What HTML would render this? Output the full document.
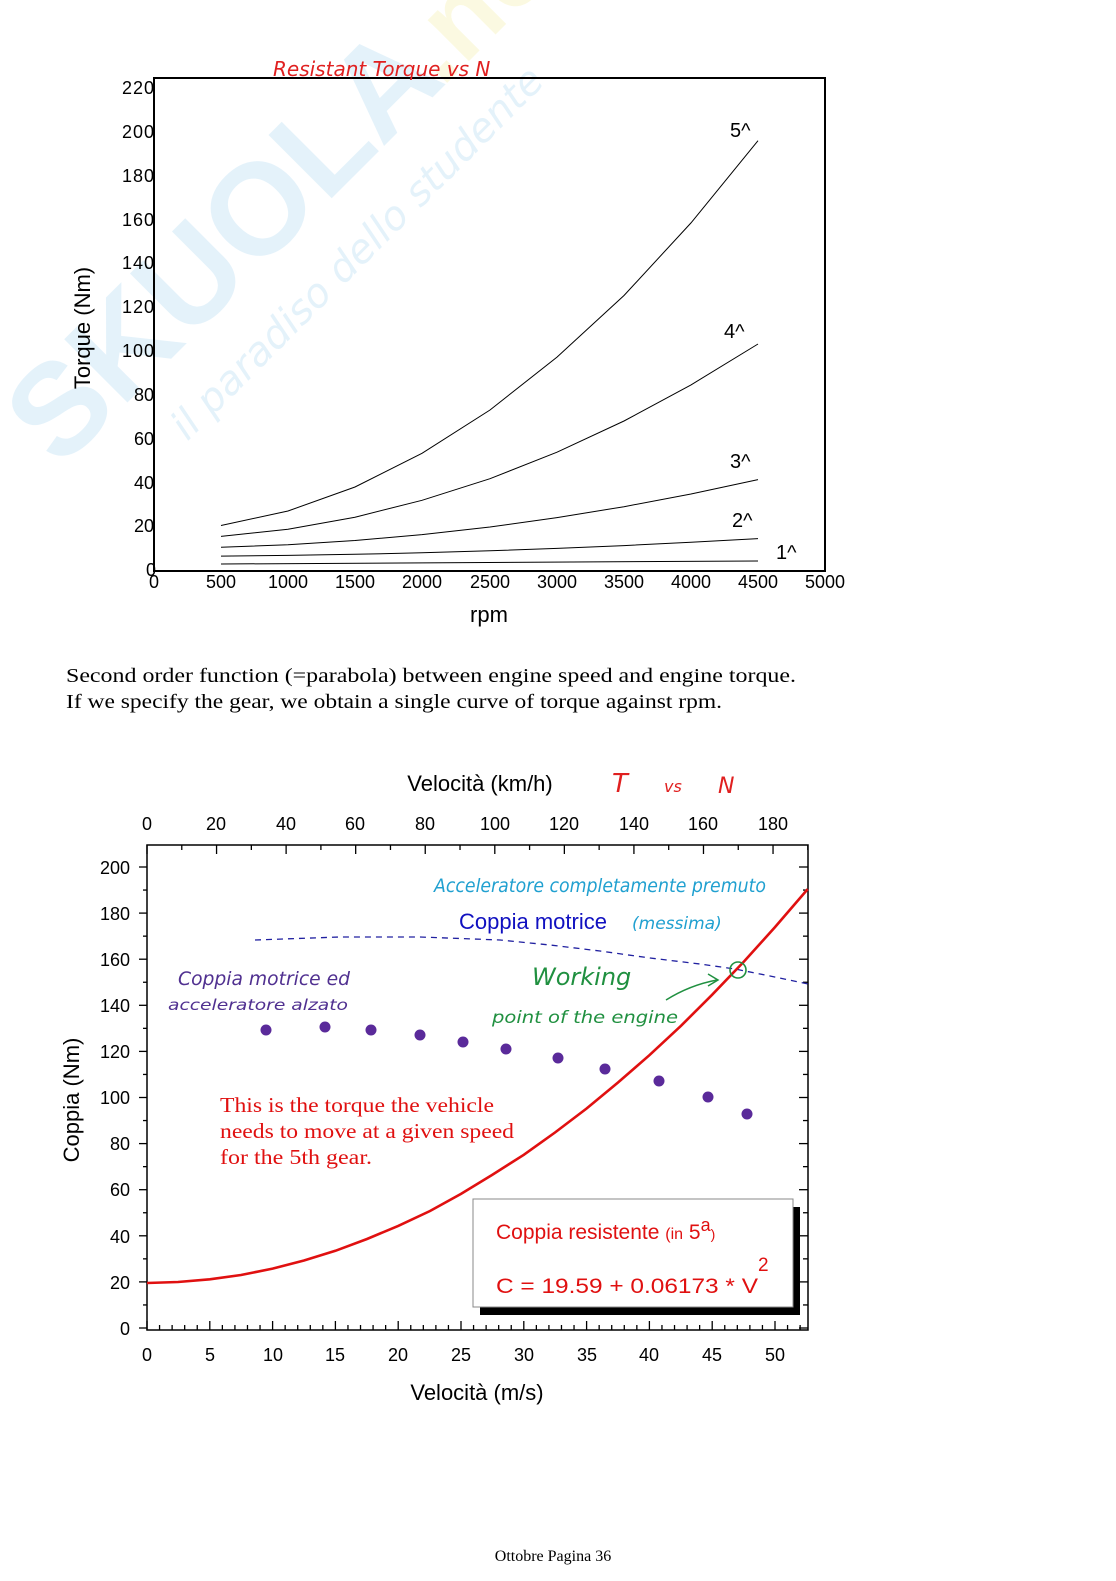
<!DOCTYPE html>
<html><head><meta charset="utf-8"><style>
html,body{margin:0;padding:0;background:#fff;}
body{width:1116px;height:1581px;position:relative;overflow:hidden;font-family:"Liberation Sans",sans-serif;}
svg{position:absolute;left:0;top:0;}
.t{font-family:"Liberation Sans",sans-serif;}
.hand{font-family:"DejaVu Sans",sans-serif;font-style:italic;}
.serif{font-family:"Liberation Serif",serif;}
</style></head><body>
<svg id="s" width="1116" height="1581" viewBox="0 0 1116 1581" xmlns="http://www.w3.org/2000/svg">
<!-- watermark -->
<g opacity="0.13" transform="translate(60 470) rotate(-45)">
<text x="0" y="0" class="t" font-size="130" font-weight="bold" fill="#3aa0e0">SKUOLA</text>
<text x="540" y="0" class="t" font-size="110" font-weight="bold" fill="#e8d820">.net</text>
<text x="110" y="70" class="hand" font-size="40" fill="#3aa0e0">il paradiso dello studente</text>
</g>
<!-- chart 1 -->
<rect x="154" y="78" width="671" height="493" fill="none" stroke="#000" stroke-width="2"/>
<text x="273" y="76" class="hand" font-size="20" fill="#e02020">Resistant Torque vs N</text>
<g class="t" font-size="18" fill="#000" text-anchor="end">
<text x="154" y="94" textLength="32">220</text><text x="154" y="138" textLength="32">200</text><text x="154" y="182" textLength="32">180</text><text x="154" y="226" textLength="32">160</text><text x="154" y="269" textLength="32">140</text><text x="154" y="313" textLength="32">120</text><text x="154" y="357" textLength="32">100</text><text x="154" y="401">80</text><text x="154" y="445">60</text><text x="154" y="489">40</text><text x="154" y="532">20</text><text x="156" y="576">0</text>
</g>
<g class="t" font-size="18" fill="#000" text-anchor="middle">
<text x="154" y="588">0</text><text x="221" y="588">500</text><text x="288" y="588">1000</text><text x="355" y="588">1500</text><text x="422" y="588">2000</text><text x="490" y="588">2500</text><text x="557" y="588">3000</text><text x="624" y="588">3500</text><text x="691" y="588">4000</text><text x="758" y="588">4500</text><text x="825" y="588">5000</text>
<text x="489" y="622" font-size="22">rpm</text>
</g>
<text transform="translate(90 328) rotate(-90)" class="t" font-size="22" text-anchor="middle">Torque (Nm)</text>
<g fill="none" stroke="#000" stroke-width="1">
<polyline points="221,525.5 288,511 355,487 422,453.3 490,410 557,357.1 624,295.5 691,222.9 758,140.7"/>
<polyline points="221,536.4 288,529.2 355,517.2 422,500.3 490,478.7 557,452.2 624,421 691,384.9 758,344"/>
<polyline points="221,547.3 288,544.7 355,540.5 422,534.6 490,527 557,517.6 624,506.7 691,494 758,479.6"/>
<polyline points="221,556.1 288,555.4 355,554.3 422,552.8 490,550.8 557,548.4 624,545.6 691,542.3 758,538.6"/>
<polyline points="221,564 758,561"/>
</g>
<g class="t" font-size="20">
<text x="730" y="137">5^</text><text x="724" y="338">4^</text><text x="730" y="468">3^</text><text x="732" y="527">2^</text><text x="776" y="559">1^</text>
</g>
<!-- paragraph -->
<text x="66" y="682" class="serif" font-size="20" textLength="730" lengthAdjust="spacingAndGlyphs">Second order function (=parabola) between engine speed and engine torque.</text>
<text x="66" y="708" class="serif" font-size="20" textLength="656" lengthAdjust="spacingAndGlyphs">If we specify the gear, we obtain a single curve of torque against rpm.</text>
<!-- chart 2 -->
<rect x="147" y="845" width="661" height="485" fill="none" stroke="#000" stroke-width="1.5"/>
<g id="ticks" stroke="#000" stroke-width="1.3"></g>
<text x="480" y="791" class="t" font-size="22" text-anchor="middle">Velocità (km/h)</text>
<text x="612" y="792" class="hand" font-size="26" fill="#e02020">T</text>
<text x="664" y="792" class="hand" font-size="16" fill="#e02020">vs</text>
<text x="718" y="793" class="hand" font-size="22" fill="#e02020">N</text>
<g class="t" font-size="18" text-anchor="middle">
<text x="147" y="830">0</text><text x="216" y="830">20</text><text x="286" y="830">40</text><text x="355" y="830">60</text><text x="425" y="830">80</text><text x="495" y="830">100</text><text x="564" y="830">120</text><text x="634" y="830">140</text><text x="703" y="830">160</text><text x="773" y="830">180</text>
<text x="147" y="1361">0</text><text x="210" y="1361">5</text><text x="273" y="1361">10</text><text x="335" y="1361">15</text><text x="398" y="1361">20</text><text x="461" y="1361">25</text><text x="524" y="1361">30</text><text x="587" y="1361">35</text><text x="649" y="1361">40</text><text x="712" y="1361">45</text><text x="775" y="1361">50</text>
<text x="477" y="1400" font-size="22">Velocità (m/s)</text>
</g>
<g class="t" font-size="18" text-anchor="end">
<text x="130" y="874">200</text><text x="130" y="920">180</text><text x="130" y="966">160</text><text x="130" y="1012">140</text><text x="130" y="1058">120</text><text x="130" y="1104">100</text><text x="130" y="1150">80</text><text x="130" y="1196">60</text><text x="130" y="1243">40</text><text x="130" y="1289">20</text><text x="130" y="1335">0</text>
</g>
<text transform="translate(79 1100) rotate(-90)" class="t" font-size="22" text-anchor="middle">Coppia (Nm)</text>
<text x="434" y="892" class="hand" font-size="19" fill="#20a0d0" textLength="332" lengthAdjust="spacingAndGlyphs">Acceleratore completamente premuto</text>
<text x="459" y="929" class="t" font-size="22" fill="#1010c0">Coppia motrice</text>
<text x="632" y="929" class="hand" font-size="17" fill="#20a0d0">(messima)</text>
<polyline points="255,940 340,937 420,937 500,940 550,945 600,951 650,958 700,964 735,969 770,976 808,984" fill="none" stroke="#2020a0" stroke-width="1.3" stroke-dasharray="6,5"/>
<text x="178" y="985" class="hand" font-size="19" fill="#503090" textLength="172" lengthAdjust="spacingAndGlyphs">Coppia motrice ed</text>
<text x="168" y="1010" class="hand" font-size="15" fill="#503090" textLength="180" lengthAdjust="spacingAndGlyphs">acceleratore alzato</text>
<text x="532" y="985" class="hand" font-size="24" fill="#209040">Working</text>
<text x="492" y="1023" class="hand" font-size="17" fill="#209040" textLength="186" lengthAdjust="spacingAndGlyphs">point of the engine</text>
<path d="M666,1000 Q690,985 717,980" fill="none" stroke="#209040" stroke-width="1.5"/>
<path d="M708,974 L718,980 L708,986" fill="none" stroke="#209040" stroke-width="1.5"/>
<g fill="#5a2a9a">
<circle cx="266" cy="1030" r="5.5"/><circle cx="325" cy="1027" r="5.5"/><circle cx="371" cy="1030" r="5.5"/><circle cx="420" cy="1035" r="5.5"/><circle cx="463" cy="1042" r="5.5"/><circle cx="506" cy="1049" r="5.5"/><circle cx="558" cy="1058" r="5.5"/><circle cx="605" cy="1069" r="5.5"/><circle cx="659" cy="1081" r="5.5"/><circle cx="708" cy="1097" r="5.5"/><circle cx="747" cy="1114" r="5.5"/>
</g>
<polyline points="147,1283 178,1282 209.8,1279.3 241,1275 272.6,1268.6 304,1260.5 335.4,1250.8 367,1239 398.2,1225.9 430,1211 461,1193.9 492,1175 523.8,1154.8 555,1132.5 586.6,1108.5 618,1082.5 649.4,1055.2 681,1025.8 712.2,994.7 744,961.5 775,927.1 807.7,889.1" fill="none" stroke="#e01010" stroke-width="2.6"/>
<circle cx="738" cy="970" r="8" fill="none" stroke="#209040" stroke-width="1.6"/>
<g class="serif" font-size="21" fill="#e01010">
<text x="220" y="1112" textLength="274" lengthAdjust="spacingAndGlyphs">This is the torque the vehicle</text>
<text x="220" y="1138" textLength="294" lengthAdjust="spacingAndGlyphs">needs to move at a given speed</text>
<text x="220" y="1164" textLength="152" lengthAdjust="spacingAndGlyphs">for the 5th gear.</text>
</g>
<rect x="480" y="1207" width="320" height="108" fill="#000"/>
<rect x="473" y="1199" width="320" height="108" fill="#fff" stroke="#888" stroke-width="1"/>
<text x="496" y="1239" class="t" font-size="21" fill="#e01010">Coppia resistente <tspan font-size="16">(in</tspan> 5<tspan font-size="18" dy="-8">a</tspan><tspan font-size="14" dy="8">)</tspan></text>
<text x="758" y="1271" class="t" font-size="19" fill="#e01010">2</text>
<text x="496" y="1293" class="t" font-size="21" fill="#e01010" textLength="262" lengthAdjust="spacingAndGlyphs">C = 19.59 + 0.06173 * V</text>
<text x="553" y="1561" class="serif" font-size="16" text-anchor="middle">Ottobre Pagina 36</text>
</svg>
<script>
var g=document.getElementById('ticks'),h='';
function L(a,b,c,d){h+='<line x1="'+a+'" y1="'+b+'" x2="'+c+'" y2="'+d+'"/>';}
for(var v=0;v<=52;v++){var x=147+12.56*v;var m=v%5==0;L(x,1330,x,1330-(m?9:5));}
for(var k=0;k<=190;k+=10){var x=147+3.478*k;var m=k%20==0;L(x,845,x,845+(m?9:5));}
for(var c=0;c<=200;c+=10){var y=1328-2.305*c;var m=c%20==0;L(147-(m?8:4),y,147,y);L(808-(m?9:5),y,808,y);}
g.innerHTML=h;
</script>
</body></html>
